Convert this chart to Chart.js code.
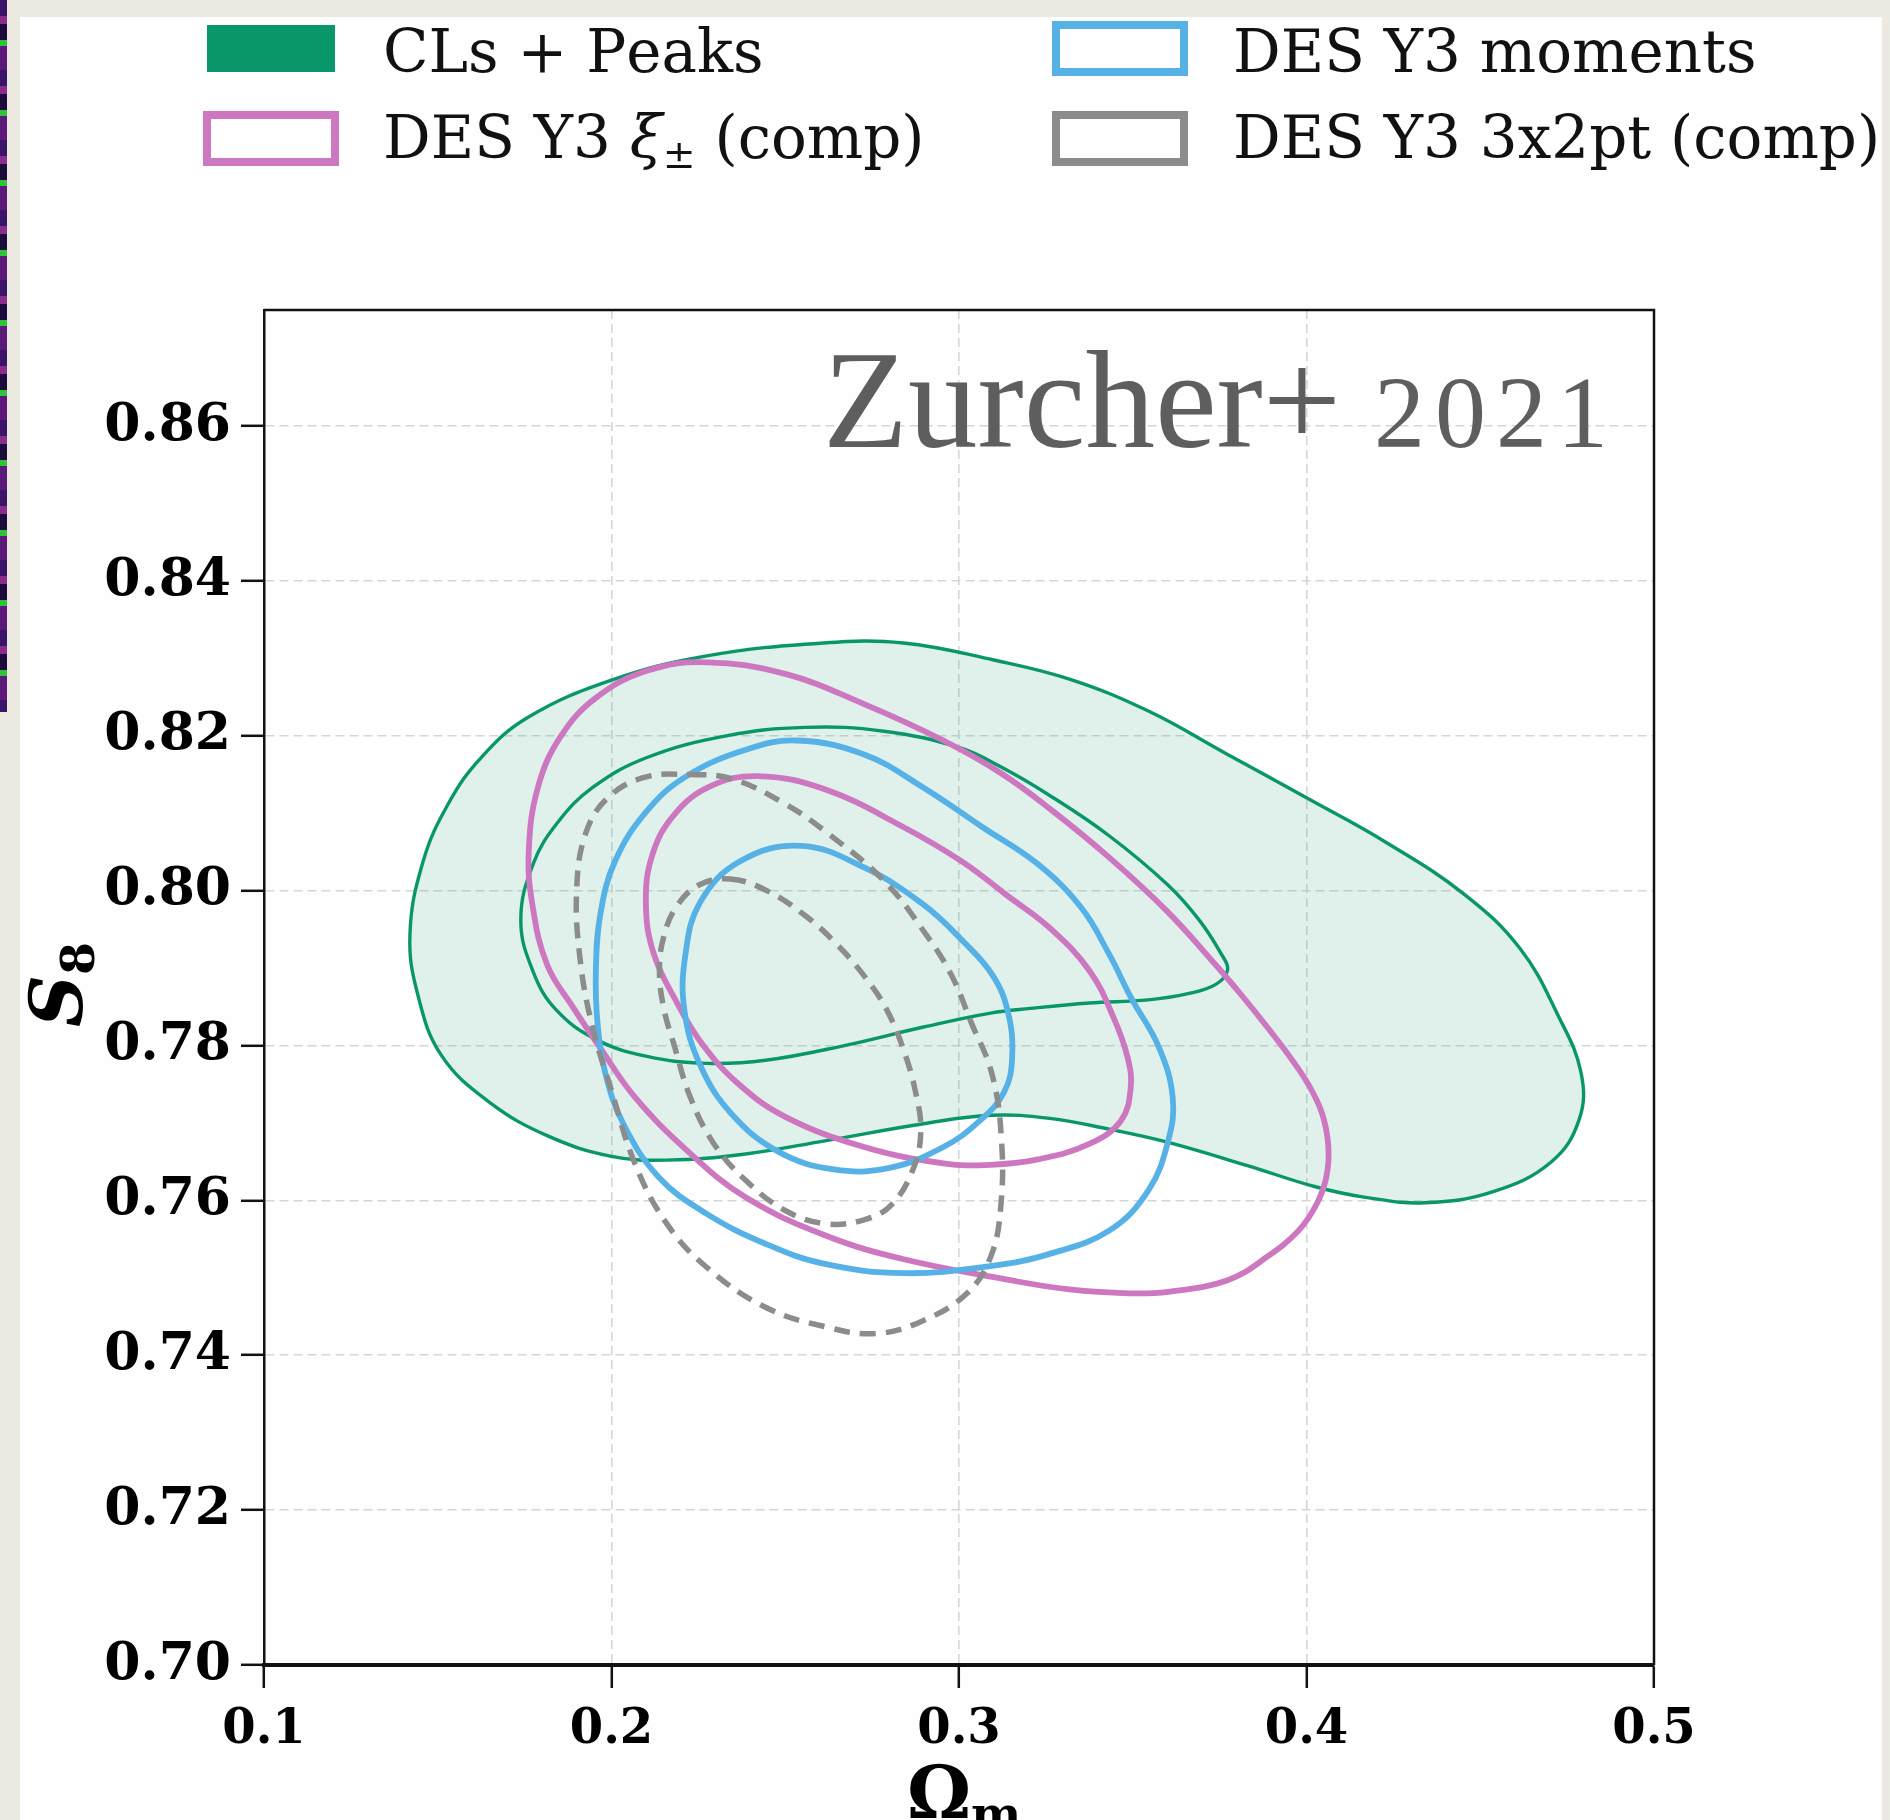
<!DOCTYPE html>
<html>
<head>
<meta charset="utf-8">
<script src="https://cdn.jsdelivr.net/npm/chart.js@4.4.0/dist/chart.umd.min.js"></script>
<style>
  html, body { margin: 0; padding: 0; }
  body { width: 1890px; height: 1820px; background: #ece9e0; position: relative; overflow: hidden; }
  #strip { position: absolute; left: 0; top: 0; width: 7px; height: 712px;
    background: repeating-linear-gradient(180deg, #3a1468 0 16px, #8a2c8c 16px 24px, #1d0b3c 24px 40px, #2fc43a 40px 46px, #5b1a7a 46px 70px); }
  #panel { position: absolute; left: 20px; top: 17px; width: 1862px; height: 1803px; background: #fefefe; }
  canvas { position: absolute; left: 0; top: 0; }
</style>
</head>
<body>
<div id="strip"></div>
<div id="panel"></div>
<canvas id="c" width="1890" height="1820"></canvas>
<script>
// axis ticks
const xTicks = [0.1, 0.2, 0.3, 0.4, 0.5];
const yTicks = [0.70, 0.72, 0.74, 0.76, 0.78, 0.80, 0.82, 0.84, 0.86];

// contour lines, [Omega_m, S8], each one a closed curve
const peaks95 = [[0.261, 0.832], [0.284, 0.832], [0.31, 0.8298], [0.332, 0.8273], [0.3545, 0.8232], [0.3773, 0.8176],
  [0.4, 0.812], [0.4227, 0.8063], [0.4455, 0.7995], [0.4615, 0.7925], [0.4725, 0.7838], [0.479, 0.7765],
  [0.4785, 0.7705], [0.4705, 0.765], [0.4535, 0.7611], [0.4341, 0.7597], [0.417, 0.7604], [0.4023, 0.7618],
  [0.383, 0.7645], [0.3602, 0.7675], [0.3432, 0.7692], [0.3261, 0.7706], [0.3091, 0.771], [0.2898, 0.7699],
  [0.2614, 0.7677], [0.2386, 0.766], [0.2159, 0.7652], [0.2, 0.7657], [0.1818, 0.7683], [0.1648, 0.7727],
  [0.1511, 0.7787], [0.1443, 0.7865], [0.142, 0.7944], [0.1458, 0.8038], [0.153, 0.8112], [0.1625, 0.8172],
  [0.176, 0.8224], [0.2, 0.8272], [0.227, 0.8303]];
const peaks68 = [[0.2557, 0.8211], [0.2784, 0.8206], [0.300, 0.8185], [0.312, 0.816], [0.3261, 0.8123],
  [0.3432, 0.8071], [0.3602, 0.8007], [0.3693, 0.7961], [0.3755, 0.7918], [0.3773, 0.7898], [0.3739, 0.7879],
  [0.3659, 0.7867], [0.3545, 0.7859], [0.3375, 0.7855], [0.3205, 0.7848], [0.3091, 0.7842], [0.2898, 0.7824],
  [0.267, 0.78], [0.2443, 0.7781], [0.2273, 0.7777], [0.2102, 0.7786], [0.1955, 0.7808], [0.1841, 0.7846],
  [0.1775, 0.7895], [0.1739, 0.7962], [0.1775, 0.8035], [0.1845, 0.8088], [0.1945, 0.8133], [0.2102, 0.8172],
  [0.233, 0.8200]];
const xi95 = [[0.2273, 0.8295], [0.25, 0.828], [0.2727, 0.8241], [0.2955, 0.8194], [0.312, 0.8152], [0.3261, 0.8106],
  [0.3432, 0.8043], [0.3602, 0.7972], [0.3739, 0.7904], [0.3815, 0.7864], [0.3885, 0.7825], [0.3948, 0.7788],
  [0.4005, 0.7750], [0.4045, 0.7712], [0.4063, 0.7669], [0.4057, 0.763], [0.403, 0.7596], [0.3977, 0.7561],
  [0.3886, 0.7527], [0.3773, 0.7497], [0.3602, 0.7482], [0.3489, 0.748], [0.3318, 0.7485], [0.3148, 0.7497],
  [0.2841, 0.7524], [0.2614, 0.7555], [0.2386, 0.7604], [0.2216, 0.7665], [0.2068, 0.7733], [0.1966, 0.7798],
  [0.189, 0.7849], [0.1815, 0.7904], [0.1772, 0.7983], [0.1762, 0.8052], [0.1788, 0.8133], [0.1852, 0.8198],
  [0.1955, 0.8249], [0.2102, 0.8284]];
const xi68 = [[0.242, 0.8148], [0.2614, 0.8131], [0.2841, 0.8082], [0.3011, 0.8037], [0.3135, 0.7995],
  [0.3261, 0.7952], [0.3375, 0.7897], [0.3443, 0.7838], [0.3485, 0.7785], [0.3494, 0.7745], [0.3466, 0.7703],
  [0.3375, 0.7673], [0.3227, 0.7653], [0.309, 0.7646], [0.2955, 0.7648], [0.2727, 0.7669], [0.25, 0.7708],
  [0.2364, 0.7751], [0.2261, 0.7802], [0.219, 0.7854], [0.2122, 0.7918], [0.2099, 0.7983], [0.2118, 0.8047],
  [0.2182, 0.8099], [0.2285, 0.8135]];
const mom95 = [[0.2534, 0.8194], [0.2727, 0.8176], [0.2898, 0.8133], [0.3068, 0.8082], [0.3225, 0.8035],
  [0.3352, 0.7978], [0.3432, 0.7918], [0.3495, 0.7862], [0.3575, 0.7798], [0.3615, 0.7733], [0.3602, 0.7677],
  [0.3545, 0.7613], [0.3432, 0.7561], [0.3261, 0.7531], [0.309, 0.7515], [0.2841, 0.7506], [0.2614, 0.7518],
  [0.2443, 0.7544], [0.2273, 0.7583], [0.2136, 0.763], [0.2034, 0.7699], [0.1983, 0.7763], [0.196, 0.7828],
  [0.1955, 0.7897], [0.1968, 0.797], [0.2011, 0.8039], [0.2102, 0.8103], [0.2216, 0.8148], [0.2386, 0.8182]];
const mom68 = [[0.2545, 0.8058], [0.2727, 0.8030], [0.2898, 0.7982], [0.3011, 0.7935], [0.3095, 0.7892],
  [0.3140, 0.7845], [0.3153, 0.7785], [0.3130, 0.7740], [0.3060, 0.7703], [0.2955, 0.7669], [0.2800, 0.7642],
  [0.2640, 0.7640], [0.2480, 0.7663], [0.2345, 0.7712], [0.2255, 0.7775], [0.2210, 0.7845], [0.2212, 0.7915],
  [0.2255, 0.7985], [0.2370, 0.8038]];
const pt95 = [[0.2227, 0.815], [0.235, 0.8144], [0.25, 0.8112], [0.2614, 0.8077], [0.2784, 0.8013], [0.2898, 0.7948],
  [0.2977, 0.7892], [0.3035, 0.7830], [0.3095, 0.7763], [0.3122, 0.7680], [0.3120, 0.7591], [0.3091, 0.7527],
  [0.3023, 0.748], [0.2898, 0.7445], [0.2761, 0.7428], [0.2614, 0.7437], [0.2443, 0.7462], [0.2273, 0.7514],
  [0.2159, 0.757], [0.2068, 0.7647], [0.2, 0.7742], [0.1943, 0.7828], [0.1908, 0.7918], [0.1900, 0.8004],
  [0.1925, 0.8073], [0.1985, 0.8118], [0.2091, 0.8146]];
const pt68 = [[0.2341, 0.8015], [0.2443, 0.8001], [0.2557, 0.7968], [0.2648, 0.7931], [0.2727, 0.7890],
  [0.2790, 0.7848], [0.2840, 0.7795], [0.2875, 0.7740], [0.2890, 0.7690], [0.2870, 0.7643], [0.2807, 0.7595],
  [0.2727, 0.7575], [0.2614, 0.7570], [0.2500, 0.7587], [0.2386, 0.7626], [0.2295, 0.7673], [0.2227, 0.7733],
  [0.2182, 0.7798], [0.2150, 0.7849], [0.2138, 0.7897], [0.2150, 0.7940], [0.2185, 0.7978], [0.2250, 0.8007]];

const legendLabels = ['CLs + Peaks', 'DES Y3 *ξ*_± (comp)', 'DES Y3 moments', 'DES Y3 3x2pt (comp)'];

const GREEN = '#08966a', MAGENTA = '#cc77bf', BLUE = '#56b2e6', GREY = '#8c8c8c';

function contour(pts, color, width, extra) {
  return Object.assign({
    data: pts.map(p => ({x: p[0], y: p[1]})), showLine: true, borderColor: color, borderWidth: width,
    pointRadius: 0, pointHoverRadius: 0, tension: 0.4, fill: false
  }, extra || {});
}

// first dataset is drawn on top
const datasets = [
  contour(pt68, GREY, 5.5, {borderDash: [16, 10]}),
  contour(pt95, GREY, 5.5, {borderDash: [16, 10], label: legendLabels[3], slot: [1, 1]}),
  contour(mom68, BLUE, 5.8),
  contour(mom95, BLUE, 5.8, {label: legendLabels[2], slot: [1, 0]}),
  contour(xi68, MAGENTA, 5.8),
  contour(xi95, MAGENTA, 5.8, {label: legendLabels[1], slot: [0, 1]}),
  contour(peaks68, GREEN, 3.4),
  contour(peaks95, GREEN, 3.4, {label: legendLabels[0], slot: [0, 0], fill: 'shape', backgroundColor: 'rgba(8,150,110,0.12)'})
];

// make every line a closed, smooth loop
const closeLoops = {
  id: 'closeLoops',
  afterDatasetUpdate(chart, args) {
    const line = args.meta.dataset;
    if (line) { line._loop = true; line._fullLoop = true; }
  }
};

// text with *italic* and _s (subscript next char)
function drawRich(ctx, str, x, y, size, weight, family) {
  let italic = false, cx = x;
  for (let i = 0; i < str.length; i++) {
    let ch = str[i];
    if (ch === '*') { italic = !italic; continue; }
    let sub = false;
    if (ch === '_') { sub = true; ch = str[++i]; }
    const s = sub ? size * 0.66 : size;
    ctx.font = (italic ? 'italic ' : '') + weight + ' ' + s + 'px ' + family;
    ctx.fillText(ch, cx, sub ? y + size * 0.16 : y);
    cx += ctx.measureText(ch).width;
  }
}

const decor = {
  id: 'decor',
  afterDraw(chart) {
    const ctx = chart.ctx, a = chart.chartArea;
    ctx.save();
    // top and right frame
    ctx.strokeStyle = '#111';
    ctx.lineWidth = 2.5;
    ctx.beginPath();
    ctx.moveTo(a.left, a.top); ctx.lineTo(a.right, a.top); ctx.lineTo(a.right, a.bottom);
    ctx.stroke();

    // legend, two columns
    const colBox = [207, 1056], colText = [383, 1233], rowTop = [25, 115], rowBase = [72, 158];
    ctx.textBaseline = 'alphabetic';
    ctx.textAlign = 'left';
    chart.data.datasets.forEach(ds => {
      if (!ds.slot) return;
      const [c, r] = ds.slot;
      if (ds.fill) {
        ctx.fillStyle = ds.borderColor;
        ctx.fillRect(colBox[c], rowTop[r], 128, 47);
      } else {
        ctx.strokeStyle = ds.borderColor;
        ctx.lineWidth = 8;
        ctx.strokeRect(colBox[c], rowTop[r], 128, 47);
      }
      ctx.fillStyle = '#111';
      drawRich(ctx, ds.label, colText[c], rowBase[r], 59.5, 'normal', '"DejaVu Serif"');
    });

    // annotation
    ctx.fillStyle = '#5e5e5e';
    ctx.font = '139px "Liberation Serif"';
    ctx.fillText('Zurcher+', 823, 447);
    ctx.font = '102px "Liberation Serif"';
    ctx.letterSpacing = '10px';
    ctx.fillText('2021', 1374, 447);
    ctx.letterSpacing = '0px';

    // axis titles
    ctx.fillStyle = '#000';
    drawRich(ctx, 'Ω_m', 907, 1818, 72, 'bold', '"DejaVu Serif"');
    ctx.translate(82, 1027);
    ctx.rotate(-Math.PI / 2);
    drawRich(ctx, '*S*_8', 0, 0, 72, 'bold', '"DejaVu Serif"');
    ctx.restore();
  }
};

new Chart(document.getElementById('c'), {
  type: 'scatter',
  data: {datasets},
  options: {
    responsive: false,
    devicePixelRatio: 1,
    animation: false,
    events: [],
    layout: {padding: {left: 64, top: 310, right: 236, bottom: 55}},
    plugins: {legend: {display: false}, tooltip: {enabled: false}},
    scales: {
      x: {
        type: 'linear', min: 0.1, max: 0.5,
        afterBuildTicks: s => { s.ticks = xTicks.map(v => ({value: v})); },
        afterFit: s => { s.height = 100; },
        ticks: {font: {family: '"DejaVu Serif"', weight: 'bold', size: 48}, color: '#000', padding: 14,
          callback: v => v.toFixed(1)},
        grid: {color: '#d6d6d6', lineWidth: 1.6, tickLength: 23, tickColor: '#111', tickWidth: 2.5},
        border: {display: true, color: '#111', width: 4, dash: [9, 5]}
      },
      y: {
        type: 'linear', min: 0.70, max: 0.875,
        afterBuildTicks: s => { s.ticks = yTicks.map(v => ({value: v})); },
        afterFit: s => { s.width = 200; },
        ticks: {font: {family: '"DejaVu Serif"', weight: 'bold', size: 52}, color: '#000', padding: 10,
          callback: v => v.toFixed(2)},
        grid: {color: '#d6d6d6', lineWidth: 1.6, tickLength: 23, tickColor: '#111', tickWidth: 2.5},
        border: {display: true, color: '#111', width: 2.5, dash: [9, 5]}
      }
    }
  },
  plugins: [closeLoops, decor]
});
</script>
</body>
</html>
